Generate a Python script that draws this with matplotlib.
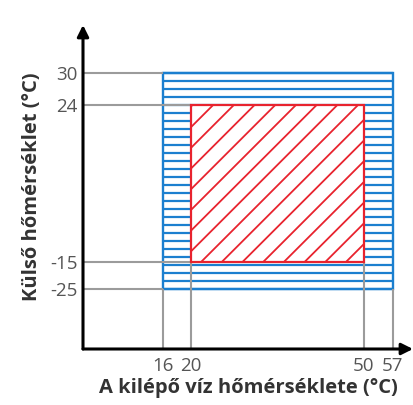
import numpy as np
import matplotlib.pyplot as plt
from matplotlib.patches import Rectangle
from matplotlib.collections import LineCollection

plt.rcParams['font.family'] = ['Open Sans', 'DejaVu Sans']

# Data (operating range)
x_ticks = [16, 20, 50, 57]
y_ticks = [-25, -15, 24, 30]
outer_x = (16, 57)     # water outlet temp range, outer zone
outer_y = (-25, 30)    # outside temp range, outer zone
inner_x = (20, 50)
inner_y = (-15, 24)
x_label = "A kilépő víz hőmérséklete (°C)"
y_label = "Külső hőmérséklet (°C)"

BLUE = "#1b7fcf"
RED = "#e8232e"
GRAY = "#9b9b9b"

# schematic (non-linear) axis: break points -> axes fraction
x_lim = (0, 60)
y_lim = (-40, 40)
x_brk = [x_lim[0]] + x_ticks + [x_lim[1]]
x_frac = [0, 0.2424, 0.327, 0.8515, 0.939, 1]
y_brk = [y_lim[0]] + y_ticks + [y_lim[1]]
y_frac = [0, 0.185, 0.2685, 0.753, 0.852, 1]


def fwd_x(v):
    return np.interp(v, x_brk, x_frac)


def inv_x(v):
    return np.interp(v, x_frac, x_brk)


def fwd_y(v):
    return np.interp(v, y_brk, y_frac)


def inv_y(v):
    return np.interp(v, y_frac, y_brk)


W, H = 414, 405
fig = plt.figure(figsize=(W / 100, H / 100), dpi=100)
ax = fig.add_axes([83 / W, (H - 349) / H, 330 / W, 324 / H])
ax.set_xscale('function', functions=(fwd_x, inv_x))
ax.set_yscale('function', functions=(fwd_y, inv_y))
ax.set_xlim(*x_lim)
ax.set_ylim(*y_lim)
ax.set_autoscale_on(False)

for s in ax.spines.values():
    s.set_visible(False)

# axes with arrows
arrow = dict(arrowstyle='-|>', lw=2.2, color='black', mutation_scale=17,
             shrinkA=0, shrinkB=0)
ax.annotate("", xy=(1, 0), xytext=(0, 0), xycoords='axes fraction', arrowprops=arrow)
ax.annotate("", xy=(0, 1), xytext=(0, 0), xycoords='axes fraction', arrowprops=arrow)

inv = ax.transData.inverted()

# outer zone (blue, horizontal hatch)
outer = Rectangle((outer_x[0], outer_y[0]), outer_x[1] - outer_x[0], outer_y[1] - outer_y[0],
                  facecolor='white', edgecolor=BLUE, lw=1.7, zorder=2)
ax.add_patch(outer)
p0 = ax.transData.transform((outer_x[0], outer_y[0]))
p1 = ax.transData.transform((outer_x[1], outer_y[1]))
n = int(round((p1[1] - p0[1]) / 8.0)) + 1
segs = []
for yp in np.linspace(p0[1], p1[1], n):
    segs.append([inv.transform((p0[0], yp)), inv.transform((p1[0], yp))])
lc = LineCollection(segs, colors=BLUE, linewidths=1.6, zorder=2.1)
ax.add_collection(lc, autolim=False)

# gray guide lines
for yv in outer_y:
    ax.plot([x_lim[0], outer_x[0]], [yv, yv], color=GRAY, lw=1.5, zorder=2.5, solid_capstyle='butt')
for yv in inner_y:
    ax.plot([x_lim[0], inner_x[0]], [yv, yv], color=GRAY, lw=1.5, zorder=2.5, solid_capstyle='butt')
for xv in outer_x:
    ax.plot([xv, xv], [y_lim[0], outer_y[0]], color=GRAY, lw=1.5, zorder=2.5, solid_capstyle='butt')
for xv in inner_x:
    ax.plot([xv, xv], [y_lim[0], inner_y[0]], color=GRAY, lw=1.5, zorder=2.5, solid_capstyle='butt')

# inner zone (red, diagonal hatch)
inner = Rectangle((inner_x[0], inner_y[0]), inner_x[1] - inner_x[0], inner_y[1] - inner_y[0],
                  facecolor='white', edgecolor=RED, lw=1.6, zorder=3)
ax.add_patch(inner)
X0, Y0 = ax.transData.transform((inner_x[0], inner_y[0]))
X1, Y1 = ax.transData.transform((inner_x[1], inner_y[1]))
step = 20.7
c0 = Y1 - X0 - 1.5
segs = []
for c in np.arange(c0 - 40 * step, c0 + 40 * step, step):
    # line y = x + c in display pixels, clipped to the rectangle
    xs = max(X0, Y0 - c)
    xe = min(X1, Y1 - c)
    if xe - xs > 0.5:
        segs.append([inv.transform((xs, xs + c)), inv.transform((xe, xe + c))])
lc2 = LineCollection(segs, colors=RED, linewidths=1.3, zorder=3.1)
ax.add_collection(lc2, autolim=False)

# ticks
ax.set_xticks(x_ticks)
ax.set_xticklabels([str(v) for v in x_ticks])
ax.set_yticks(y_ticks)
ax.set_yticklabels([str(v) for v in y_ticks])
ax.minorticks_off()
ax.tick_params(length=0, labelsize=13.5, labelcolor='#555555')
ax.tick_params(axis='x', pad=6)
ax.tick_params(axis='y', pad=4)

ax.set_xlabel(x_label, fontsize=14.5, fontweight='bold', color='#333333', labelpad=2)
ax.set_ylabel(y_label, fontsize=14.5, fontweight='bold', color='#333333', labelpad=6)

fig.savefig("out.png", dpi=100)
